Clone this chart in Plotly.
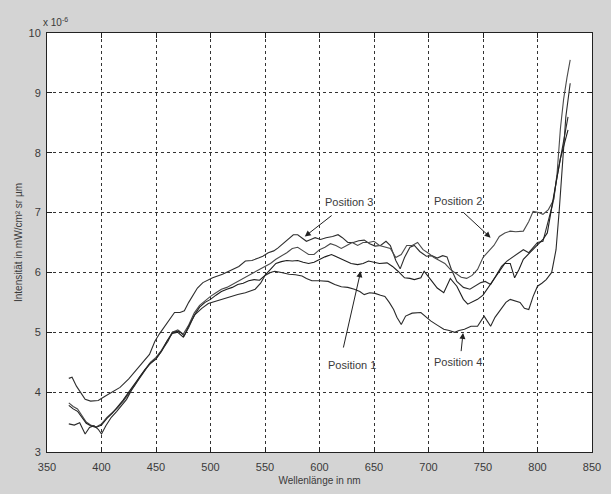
import plotly.graph_objects as go

# ---- data (intensity in units of 1e-6 mW/cm² sr µm) ----
wl_pos3 = [370,373,377,381,385,390,397,404,410,417,425,432,438,444,449,453,460,467,472,476,480,484,488,493,502,511,520,526,532,538,544,548,553,558,562,568,572,576,580,584,588,592,596,601,606,612,617,621,626,631,636,641,646,651,656,661,665,670,674,678,683,687,692,698,703,708,713,717,721,726,732,738,744,748,752,757,762,767,772,777,781,787,792,796,800,805,810,814,818,822,825,828]
int_pos3 = [4.23,4.25,4.1,4.0,3.88,3.85,3.86,3.94,4.0,4.08,4.22,4.38,4.5,4.63,4.85,4.97,5.15,5.33,5.33,5.36,5.5,5.62,5.74,5.83,5.91,5.97,6.05,6.1,6.19,6.2,6.24,6.27,6.33,6.36,6.41,6.5,6.56,6.63,6.63,6.58,6.52,6.55,6.58,6.55,6.58,6.6,6.63,6.58,6.5,6.5,6.53,6.54,6.48,6.44,6.45,6.52,6.45,6.2,6.06,6.25,6.42,6.45,6.35,6.27,6.28,6.24,6.28,6.26,6.05,5.85,5.75,5.72,5.78,5.83,5.85,5.8,5.95,6.1,6.19,6.25,6.3,6.38,6.33,6.42,6.5,6.52,6.88,7.15,7.6,8.0,8.3,8.6]

wl_pos2 = [370,374,378,382,386,390,395,400,405,410,415,420,425,430,435,440,445,450,455,460,465,470,475,480,485,490,495,500,505,510,515,520,525,530,535,540,545,550,555,560,565,570,575,580,585,590,595,600,605,610,615,620,625,630,635,640,645,650,655,660,665,670,675,680,685,690,695,700,705,710,715,720,725,730,735,740,745,750,755,760,765,770,775,780,787,792,796,801,805,810,815,818,821,824,827,830]
int_pos2 = [3.82,3.76,3.72,3.6,3.5,3.45,3.42,3.47,3.58,3.66,3.74,3.85,3.97,4.1,4.25,4.38,4.5,4.58,4.7,4.85,5.0,5.04,4.97,5.12,5.32,5.45,5.53,5.6,5.66,5.72,5.75,5.8,5.85,5.9,5.95,6.0,6.05,6.1,6.15,6.22,6.27,6.33,6.4,6.42,6.36,6.3,6.3,6.38,6.42,6.48,6.45,6.4,6.45,6.5,6.45,6.5,6.5,6.52,6.45,6.42,6.4,6.25,6.3,6.45,6.45,6.5,6.38,6.32,6.25,6.2,6.15,6.05,5.98,5.92,5.9,5.95,6.05,6.25,6.35,6.45,6.6,6.66,6.69,6.68,6.69,6.85,7.02,7.0,6.97,7.05,7.22,7.66,8.4,8.9,9.25,9.55]

wl_pos1 = [370,374,378,382,386,390,395,400,405,410,415,420,425,430,435,440,445,450,455,460,465,470,475,480,485,490,495,500,505,510,515,520,525,530,535,540,545,550,555,560,565,570,575,580,585,590,595,600,605,611,617,623,629,635,640,645,650,655,662,667,672,678,683,687,693,696,702,708,714,720,726,732,736,740,745,750,755,760,765,770,775,779,783,787,793,799,805,809,813,817,821,825,828]
int_pos1 = [3.78,3.72,3.68,3.58,3.48,3.44,3.41,3.45,3.56,3.65,3.76,3.87,4.0,4.13,4.26,4.38,4.48,4.56,4.68,4.85,4.98,5.0,4.92,5.08,5.28,5.42,5.5,5.55,5.62,5.68,5.72,5.75,5.8,5.82,5.86,5.88,5.87,5.95,6.05,6.15,6.18,6.2,6.19,6.2,6.17,6.15,6.17,6.22,6.26,6.3,6.25,6.19,6.15,6.13,6.15,6.19,6.17,6.15,6.16,6.1,6.02,5.91,5.9,5.88,5.91,6.02,5.88,5.74,5.66,5.9,5.77,5.55,5.47,5.5,5.55,5.62,5.75,5.9,6.02,6.15,6.15,5.91,6.05,6.22,6.33,6.44,6.55,6.66,7.05,7.5,7.9,8.2,8.38]

wl_pos4 = [370,375,380,385,389,393,397,400,404,409,414,419,423,428,435,440,444,450,456,461,465,471,476,480,486,492,498,505,511,518,525,532,541,546,550,555,559,565,572,578,584,588,593,600,608,614,620,626,632,637,641,646,651,656,660,664,668,671,675,679,685,693,698,702,708,714,719,724,728,733,739,745,751,757,761,766,771,775,780,784,788,792,796,800,804,808,813,817,820,823,826,830]
int_pos4 = [3.47,3.45,3.49,3.3,3.41,3.44,3.38,3.3,3.44,3.58,3.68,3.8,3.88,4.05,4.24,4.38,4.47,4.55,4.72,4.85,5.0,5.02,4.94,5.11,5.3,5.4,5.48,5.52,5.55,5.6,5.63,5.66,5.72,5.82,5.95,6.0,6.02,6.0,5.97,5.96,5.94,5.9,5.86,5.86,5.85,5.8,5.76,5.75,5.72,5.68,5.63,5.66,5.65,5.62,5.6,5.5,5.38,5.25,5.13,5.27,5.32,5.33,5.25,5.19,5.12,5.05,5.03,5.0,5.03,5.05,5.1,5.1,5.27,5.1,5.25,5.38,5.5,5.55,5.52,5.5,5.4,5.38,5.6,5.77,5.82,5.88,6.0,6.38,7.05,7.9,8.6,9.16]

x_ticks = [350, 400, 450, 500, 550, 600, 650, 700, 750, 800, 850]
y_ticks = [3, 4, 5, 6, 7, 8, 9, 10]

series = [
    (wl_pos3, int_pos3, "Position 3", "#2e2e2e"),
    (wl_pos2, int_pos2, "Position 2", "#4a4a4a"),
    (wl_pos1, int_pos1, "Position 1", "#1e1e1e"),
    (wl_pos4, int_pos4, "Position 4", "#2a2a2a"),
]

fig = go.Figure()
for x, y, name, col in series:
    fig.add_trace(go.Scatter(x=x, y=y, mode="lines", name=name,
                             line=dict(color=col, width=1.1), showlegend=False))

FONT = "Liberation Sans, Arial, sans-serif"
font_txt = dict(family=FONT, size=11, color="#3a3a3a")

# label texts
labels = [
    ("Position 3", 627.0, 7.17),
    ("Position 2", 727.5, 7.2),
    ("Position 1", 629.5, 4.46),
    ("Position 4", 727.0, 4.5),
]
for t, xx, yy in labels:
    fig.add_annotation(x=xx, y=yy, text=t, showarrow=False, font=font_txt,
                       xref="x", yref="y")

# arrows (tail -> tip)
arrows = [
    (612.5, 6.97, 586.5, 6.6),
    (731.0, 7.02, 757.0, 6.58),
    (621.6, 4.72, 637.8, 6.02),
    (729.8, 4.66, 731.7, 4.99),
]
for ax_, ay_, x_, y_ in arrows:
    fig.add_annotation(x=x_, y=y_, ax=ax_, ay=ay_, xref="x", yref="y",
                       axref="x", ayref="y", text="", showarrow=True,
                       arrowhead=2, arrowsize=1.2, arrowwidth=1,
                       arrowcolor="#222", standoff=0)

# exponent label
fig.add_annotation(x=0, y=1, xref="paper", yref="paper", xanchor="left",
                   yanchor="bottom", xshift=-6, yshift=3,
                   text="x 10<sup>-6</sup>", showarrow=False,
                   font=dict(family=FONT, size=10, color="#3a3a3a"))

axis_common = dict(
    showline=True, linecolor="#222", linewidth=1, mirror="ticks",
    ticks="inside", ticklen=5, tickcolor="#222",
    showgrid=True, gridcolor="#333", gridwidth=1, griddash="3px,3px",
    zeroline=False,
    tickfont=dict(family=FONT, size=11, color="#3a3a3a"),
)

fig.update_xaxes(range=[350, 850], tickvals=x_ticks, ticktext=[str(v) for v in x_ticks],
                 ticklabelstandoff=5,
                 title=dict(text="Wellenlänge in nm", standoff=4,
                            font=dict(family=FONT, size=10, color="#3a3a3a")),
                 **axis_common)
fig.update_yaxes(range=[3, 10], tickvals=y_ticks, ticktext=[str(v) for v in y_ticks],
                 ticklabelstandoff=3,
                 title=dict(text="Intensität in mW/cm² sr µm", standoff=4,
                            font=dict(family=FONT, size=10, color="#3a3a3a")),
                 **axis_common)

fig.update_layout(
    width=611, height=494,
    margin=dict(l=47, r=10, t=33, b=38),
    paper_bgcolor="#d4d4d4",
    plot_bgcolor="#ffffff",
    showlegend=False,
)

fig.write_html("out.html", config={"displayModeBar": False},
               post_script="document.body.style.margin='0';document.body.style.padding='0';")
